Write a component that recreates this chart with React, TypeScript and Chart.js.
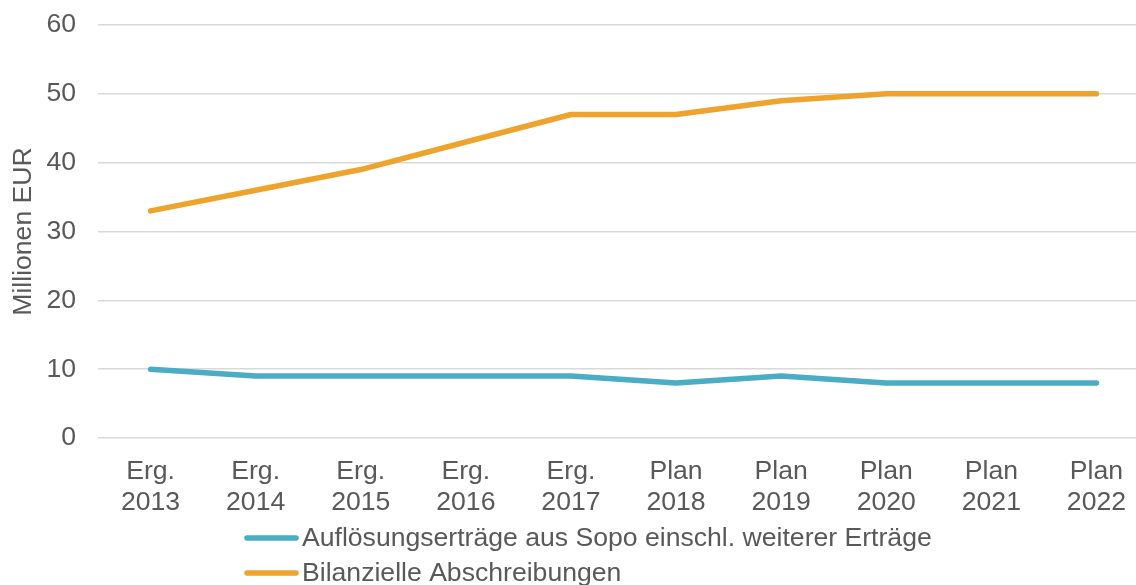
import React, { useEffect, useRef } from "react";
import { Chart, registerables } from "chart.js";

Chart.register(...registerables);

const categories: string[][] = [
  ["Erg.", "2013"], ["Erg.", "2014"], ["Erg.", "2015"], ["Erg.", "2016"], ["Erg.", "2017"],
  ["Plan", "2018"], ["Plan", "2019"], ["Plan", "2020"], ["Plan", "2021"], ["Plan", "2022"],
];
const aufloesungsertraege = [10, 9, 9, 9, 9, 8, 9, 8, 8, 8];
const abschreibungen = [33, 36, 39, 43, 47, 47, 49, 50, 50, 50];
const seriesNames = [
  "Auflösungserträge aus Sopo einschl. weiterer Erträge",
  "Bilanzielle Abschreibungen",
];
const yTitle = "Millionen EUR";

const FONT = "'Liberation Sans', Arial, sans-serif";
const TEXT = "#595959";
const FS = 26.6;

const legendPlugin = {
  id: "stackedLegend",
  afterDraw(chart: any) {
    const ctx = chart.ctx;
    ctx.save();
    const x0 = 245;
    const lineLen = 53;
    const rows = [538, 573];
    chart.data.datasets.forEach((ds: any, i: number) => {
      const y = rows[i];
      ctx.strokeStyle = ds.borderColor;
      ctx.lineWidth = 5.5;
      ctx.lineCap = "round";
      ctx.beginPath();
      ctx.moveTo(x0 + 2, y);
      ctx.lineTo(x0 + lineLen - 2, y);
      ctx.stroke();
      ctx.fillStyle = TEXT;
      ctx.font = `${FS}px ${FONT}`;
      ctx.textBaseline = "middle";
      ctx.textAlign = "left";
      ctx.fillText(ds.label, x0 + lineLen + 4, y + 1);
    });
    ctx.restore();
  },
};

export default function App() {
  const ref = useRef<HTMLCanvasElement>(null);
  useEffect(() => {
    if (!ref.current) return;
    const chart = new Chart(ref.current, {
      type: "line",
      data: {
        labels: categories,
        datasets: [
          {
            label: seriesNames[0],
            data: aufloesungsertraege,
            borderColor: "#4BACC6",
            backgroundColor: "#4BACC6",
            borderWidth: 5.5,
            pointRadius: 0,
            tension: 0,
            borderCapStyle: "round",
            borderJoinStyle: "round",
          },
          {
            label: seriesNames[1],
            data: abschreibungen,
            borderColor: "#EEA32D",
            backgroundColor: "#EEA32D",
            borderWidth: 5.5,
            pointRadius: 0,
            tension: 0,
            borderCapStyle: "round",
            borderJoinStyle: "round",
          },
        ],
      },
      options: {
        animation: false,
        responsive: true,
        maintainAspectRatio: false,
        layout: { padding: { top: 25, right: 0, bottom: 60, left: 0 } },
        plugins: { legend: { display: false }, tooltip: { enabled: false } },
        scales: {
          x: {
            offset: true,
            grid: { display: false, drawTicks: false },
            border: { display: false },
            ticks: {
              color: TEXT,
              font: { family: FONT, size: FS, lineHeight: 1.17 },
              padding: 18,
              maxRotation: 0,
              autoSkip: false,
            },
            afterFit(scale: any) {
              scale.height = 87;
            },
          },
          y: {
            min: 0,
            max: 60,
            ticks: {
              stepSize: 10,
              color: TEXT,
              font: { family: FONT, size: FS },
              padding: 22,
            },
            grid: { color: "#D9D9D9", lineWidth: 1.5, drawTicks: false },
            border: { display: false },
            title: {
              display: true,
              text: yTitle,
              color: TEXT,
              font: { family: FONT, size: FS },
              padding: { top: 8, bottom: 0 },
            },
            afterFit(scale: any) {
              scale.width = 98;
              scale.paddingTop = 0;
              scale.paddingBottom = 0;
            },
          },
        },
      },
      plugins: [legendPlugin],
    });
    return () => chart.destroy();
  }, []);
  return (
    <div style={{ position: "fixed", left: 0, top: 0, width: 1136, height: 585, overflow: "hidden", background: "#fff" }}>
      <div style={{ position: "relative", width: 1149, height: 585 }}>
        <canvas ref={ref} />
      </div>
    </div>
  );
}
